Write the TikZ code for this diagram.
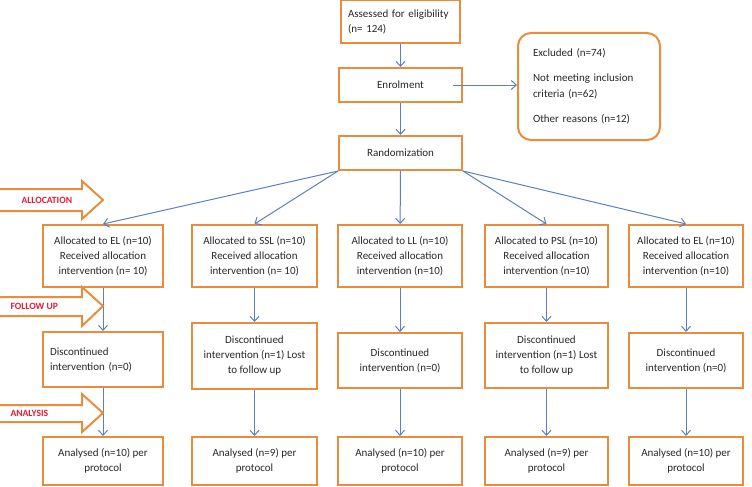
\documentclass[tikz,border=0pt]{standalone}
\usepackage{fontspec}
\setmainfont{Carlito}
\usetikzlibrary{arrows.meta}
\definecolor{boxorange}{RGB}{232,140,62}
\definecolor{flowblue}{RGB}{92,128,186}
\definecolor{stagered}{RGB}{226,30,52}
\definecolor{boxtext}{RGB}{40,40,40}
\tikzset{box/.style={draw=boxorange, line width=2pt, fill=white,
  text=boxtext, inner xsep=7pt, inner ysep=3pt, align=center,
  font=\fontsize{11}{15}\selectfont},
  exclbox/.style={box, rounded corners=13pt, align=left,
  inner xsep=15pt, font=\fontsize{11}{16}\selectfont},
  flow/.style={draw=flowblue, line width=1pt,
  -{Straight Barb[length=5pt,width=9pt]}},
  stagearrow/.style={draw=boxorange, line width=2pt, fill=white},
  stagelabel/.style={text=stagered, anchor=west,
  font=\fontsize{9.6}{10}\selectfont\bfseries}}

\begin{document}
\begin{tikzpicture}[x=1pt, y=-1pt]

	\useasboundingbox (0,0) rectangle (752,487);

	\node[box, text width=105pt, align=left, minimum height=43pt] (assess) at (400.5,21.5) {Assessed for eligibility\\(n= 124)};
	\node[box, minimum width=123pt, minimum height=34pt] (enrol) at (400.5,85) {Enrolment};
	\node[exclbox, text width=112pt, minimum height=107pt] (excl) at (589,86.5) {Excluded (n=74)\\[9pt]Not meeting inclusion\\criteria (n=62)\\[9pt]Other reasons (n=12)};
	\node[box, minimum width=123pt, minimum height=34pt] (rand) at (400.5,153) {Randomization};

	\node[box, minimum width=120pt, minimum height=62pt] (a1) at (103,256) {Allocated to EL (n=10)\\Received allocation\\intervention (n= 10)};
	\node[box, minimum width=125pt, minimum height=62pt] (a2) at (254.5,256) {Allocated to SSL (n=10)\\Received allocation\\intervention (n= 10)};
	\node[box, minimum width=124pt, minimum height=62pt] (a3) at (400,256) {Allocated to LL (n=10)\\Received allocation\\intervention (n=10)};
	\node[box, minimum width=123pt, minimum height=62pt] (a4) at (546.5,256) {Allocated to PSL (n=10)\\Received allocation\\intervention (n=10)};
	\node[box, minimum width=114pt, minimum height=62pt, inner xsep=3pt] (a5) at (686,256) {Allocated to EL (n=10)\\Received allocation\\intervention (n=10)};

	\node[box, text width=106pt, align=left, minimum height=55pt] (d1) at (103,359.5) {Discontinued\\intervention (n=0)};
	\node[box, minimum width=125pt, minimum height=66pt] (d2) at (254.5,356) {Discontinued\\intervention (n=1) Lost\\to follow up};
	\node[box, minimum width=124pt, minimum height=55pt] (d3) at (400,360.5) {Discontinued\\intervention (n=0)};
	\node[box, minimum width=123pt, minimum height=65pt] (d4) at (546.5,355.5) {Discontinued\\intervention (n=1) Lost\\to follow up};
	\node[box, minimum width=114pt, minimum height=55pt] (d5) at (686,360.5) {Discontinued\\intervention (n=0)};

	\node[box, minimum width=120pt, minimum height=48pt] (n1) at (103,461) {Analysed (n=10) per\\protocol};
	\node[box, minimum width=125pt, minimum height=48pt] (n2) at (254.5,461) {Analysed (n=9) per\\protocol};
	\node[box, minimum width=124pt, minimum height=48pt] (n3) at (400,461) {Analysed (n=10) per\\protocol};
	\node[box, minimum width=123pt, minimum height=48pt] (n4) at (546.5,461) {Analysed (n=9) per\\protocol};
	\node[box, minimum width=114pt, minimum height=48pt] (n5) at (686,461) {Analysed (n=10) per\\protocol};

	\draw[flow] (assess) -- (enrol);
	\draw[flow] ([xshift=-10pt]enrol.east) -- (enrol.east -| excl.west);
	\draw[flow] (enrol) -- (rand);

	\draw[flow] (rand.south west) -- (a1.north);
	\draw[flow] (rand.south west) -- (a2.north);
	\draw[flow] (rand) -- (a3);
	\draw[flow] (rand.south east) -- (a4.north);
	\draw[flow] (rand.south east) -- (a5.north);

	\draw[flow] (a1) -- (d1);
	\draw[flow] (a2) -- (d2);
	\draw[flow] (a3) -- (d3);
	\draw[flow] (a4) -- (d4);
	\draw[flow] (a5) -- (d5);
	\draw[flow] (d1) -- (n1);
	\draw[flow] (d2) -- (n2);
	\draw[flow] (d3) -- (n3);
	\draw[flow] (d4) -- (n4);
	\draw[flow] (d5) -- (n5);

	% stage arrows on the left
	\draw[stagearrow] (-5,189) -- (82,189) -- (82,181) -- (103,200) -- (82,219) -- (82,211) -- (-5,211) -- cycle;
	\draw[stagearrow] (-5,297) -- (82,297) -- (82,287) -- (103,306) -- (82,326) -- (82,316) -- (-5,316) -- cycle;
	\draw[stagearrow] (-5,405) -- (82,405) -- (82,394) -- (103,413) -- (82,432) -- (82,422) -- (-5,422) -- cycle;

	\node[stagelabel] (alloclabel) at (18,200) {ALLOCATION};
	\node[stagelabel] (followlabel) at (7,306) {FOLLOW UP};
	\node[stagelabel] (analysislabel) at (7,413) {ANALYSIS};
\end{tikzpicture}
\end{document}
